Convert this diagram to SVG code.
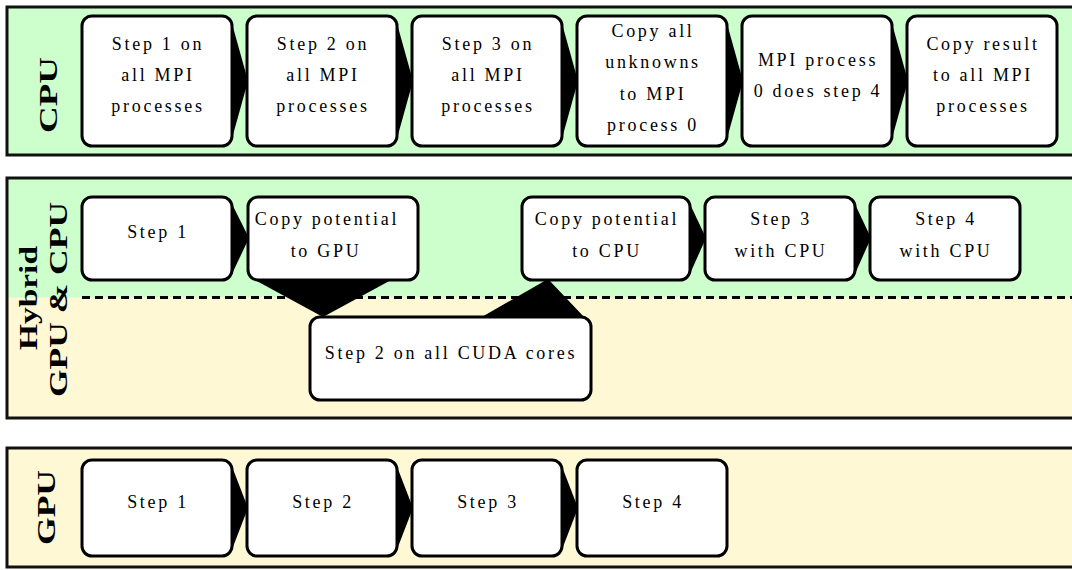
<svg xmlns="http://www.w3.org/2000/svg" width="1072" height="570" viewBox="0 0 1072 570">
<style>
.panel{stroke:#111;stroke-width:3}
.box{fill:#fff;stroke:#000;stroke-width:3}
.t{font-family:"Liberation Serif",serif;font-size:18px;letter-spacing:2.7px;text-anchor:middle;fill:#000}
.lbl{font-family:"Liberation Serif",serif;font-size:26px;font-weight:bold;text-anchor:middle;fill:#000}
.w{fill:#000}
</style>
<!-- panels -->
<g id="panel-cpu">
<rect x="7" y="7" width="1080" height="148" fill="#ccffcc" class="panel"/>
<text class="lbl" transform="translate(57,95) rotate(-90)" textLength="76" lengthAdjust="spacingAndGlyphs">CPU</text>
</g>
<g id="panel-hybrid">
<rect x="7" y="178" width="1080" height="240" fill="#ccffcc" stroke="none"/>
<rect x="7" y="297.5" width="1080" height="120.5" fill="#fff8d5" stroke="none"/>
<rect x="7" y="178" width="1080" height="240" fill="none" class="panel"/>
<line x1="82" y1="297.5" x2="1072" y2="297.5" stroke="#000" stroke-width="3" stroke-dasharray="8 5"/>
<text class="lbl" transform="translate(37,298) rotate(-90)" textLength="104" lengthAdjust="spacingAndGlyphs">Hybrid</text>
<text class="lbl" transform="translate(67,299.5) rotate(-90)" textLength="195" lengthAdjust="spacingAndGlyphs">GPU &amp; CPU</text>
</g>
<g id="panel-gpu">
<rect x="7" y="448" width="1080" height="119" fill="#fff8d5" class="panel"/>
<text class="lbl" transform="translate(55,507.5) rotate(-90)" textLength="75" lengthAdjust="spacingAndGlyphs">GPU</text>
</g>
<!-- connectors -->
<g id="connectors">
<polygon class="w" points="231,20 248,81 231,142"/>
<polygon class="w" points="396,20 413,81 396,142"/>
<polygon class="w" points="561,20 578,81 561,142"/>
<polygon class="w" points="726,20 743,81 726,142"/>
<polygon class="w" points="891,20 908,81 891,142"/>
<polygon class="w" points="231,202 249,238 231,276"/>
<polygon class="w" points="253,279 323,317 393,279"/>
<polygon class="w" points="480,318 548,279 585,318"/>
<polygon class="w" points="689,202 706,238 689,276"/>
<polygon class="w" points="854,202 871,238 854,276"/>
<polygon class="w" points="231,464 248,508 231,552"/>
<polygon class="w" points="396,464 413,508 396,552"/>
<polygon class="w" points="561,464 578,508 561,552"/>
</g>
<!-- CPU row -->
<g id="cpu1"><rect class="box" x="82" y="16" width="150" height="130" rx="10"/>
<text class="t" x="158" y="50">Step 1 on</text><text class="t" x="158" y="81">all MPI</text><text class="t" x="158" y="112">processes</text></g>
<g id="cpu2"><rect class="box" x="247" y="16" width="150" height="130" rx="10"/>
<text class="t" x="323" y="50">Step 2 on</text><text class="t" x="323" y="81">all MPI</text><text class="t" x="323" y="112">processes</text></g>
<g id="cpu3"><rect class="box" x="412" y="16" width="150" height="130" rx="10"/>
<text class="t" x="488" y="50">Step 3 on</text><text class="t" x="488" y="81">all MPI</text><text class="t" x="488" y="112">processes</text></g>
<g id="cpu4"><rect class="box" x="577" y="16" width="150" height="130" rx="10"/>
<text class="t" x="653" y="37">Copy all</text><text class="t" x="653" y="68">unknowns</text><text class="t" x="653" y="100">to MPI</text><text class="t" x="653" y="131">process 0</text></g>
<g id="cpu5"><rect class="box" x="742" y="16" width="150" height="130" rx="10"/>
<text class="t" x="818" y="66">MPI process</text><text class="t" x="818" y="97">0 does step 4</text></g>
<g id="cpu6"><rect class="box" x="907" y="16" width="150" height="130" rx="10"/>
<text class="t" x="983" y="50">Copy result</text><text class="t" x="983" y="81">to all MPI</text><text class="t" x="983" y="112">processes</text></g>
<!-- Hybrid row -->
<g id="hyb1"><rect class="box" x="82" y="197" width="150" height="83" rx="10"/>
<text class="t" x="158" y="238">Step 1</text></g>
<g id="hyb2"><rect class="box" x="248" y="197" width="170" height="83" rx="10"/>
<text class="t" x="327" y="225">Copy potential</text><text class="t" x="326" y="257">to GPU</text></g>
<g id="hyb3"><rect class="box" x="310" y="317" width="281" height="83" rx="10"/>
<text class="t" x="451" y="359">Step 2 on all CUDA cores</text></g>
<g id="hyb4"><rect class="box" x="522" y="197" width="168" height="83" rx="10"/>
<text class="t" x="607" y="225">Copy potential</text><text class="t" x="607" y="257">to CPU</text></g>
<g id="hyb5"><rect class="box" x="705" y="197" width="150" height="83" rx="10"/>
<text class="t" x="781" y="225">Step 3</text><text class="t" x="781" y="257">with CPU</text></g>
<g id="hyb6"><rect class="box" x="870" y="197" width="150" height="83" rx="10"/>
<text class="t" x="946" y="225">Step 4</text><text class="t" x="946" y="257">with CPU</text></g>
<!-- GPU row -->
<g id="gpu1"><rect class="box" x="82" y="460" width="150" height="96" rx="10"/>
<text class="t" x="158" y="508">Step 1</text></g>
<g id="gpu2"><rect class="box" x="247" y="460" width="150" height="96" rx="10"/>
<text class="t" x="323" y="508">Step 2</text></g>
<g id="gpu3"><rect class="box" x="412" y="460" width="150" height="96" rx="10"/>
<text class="t" x="488" y="508">Step 3</text></g>
<g id="gpu4"><rect class="box" x="577" y="460" width="150" height="96" rx="10"/>
<text class="t" x="653" y="508">Step 4</text></g>
</svg>
